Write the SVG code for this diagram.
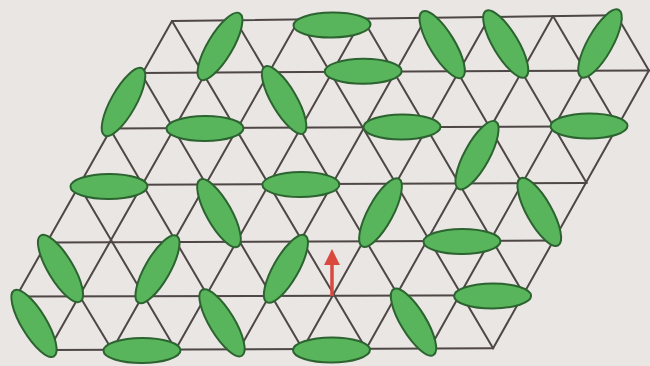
<svg xmlns="http://www.w3.org/2000/svg" width="650" height="366" viewBox="0 0 650 366">
<defs>
<style>
.bg{fill:#e9e6e3}
.ln{stroke:#4f4646;stroke-width:2;fill:none;stroke-linecap:round}
.d{fill:#58b55c;stroke:#2c6330;stroke-width:2}
.arr{stroke:#d9493c;stroke-width:3.5;fill:none}
</style>
<marker id="ah" viewBox="0 0 10 10" refX="2" refY="5" markerWidth="4.6" markerHeight="4.6" orient="auto" markerUnits="strokeWidth">
<path d="M0,0 L10,5 L0,10 z" fill="#d9493c"/>
</marker>
</defs>
<rect class="bg" x="0" y="0" width="650" height="366"/>
<g id="connectors" class="ln">
<!-- rows -->
<line x1="172" y1="21.1" x2="616.5" y2="15.3"/>
<line x1="140.9" y1="72.9" x2="648.9" y2="70.4"/>
<line x1="109.7" y1="128.4" x2="617.7" y2="126.3"/>
<line x1="78.6" y1="185" x2="586.6" y2="183"/>
<line x1="47.4" y1="242.6" x2="555.4" y2="240.6"/>
<line x1="16.3" y1="296.6" x2="524.3" y2="295.1"/>
<line x1="48.6" y1="350.1" x2="493.1" y2="348.3"/>
<!-- "/" lines -->
<line x1="172" y1="21.1" x2="16.3" y2="296.6"/>
<line x1="235.5" y1="20.2" x2="48.6" y2="350.1"/>
<line x1="299" y1="19.4" x2="112.1" y2="349.9"/>
<line x1="362.5" y1="18.6" x2="175.6" y2="349.6"/>
<line x1="426" y1="17.8" x2="239.1" y2="349.4"/>
<line x1="489.5" y1="16.9" x2="302.6" y2="349.1"/>
<line x1="553" y1="16.1" x2="366.1" y2="348.9"/>
<line x1="616.5" y1="15.3" x2="429.6" y2="348.6"/>
<line x1="648.9" y1="70.4" x2="493.1" y2="348.3"/>
<!-- "\" lines -->
<line x1="616.5" y1="15.3" x2="648.9" y2="70.4"/>
<line x1="553" y1="16.1" x2="617.7" y2="126.3"/>
<line x1="489.5" y1="16.9" x2="586.6" y2="183"/>
<line x1="426" y1="17.8" x2="555.4" y2="240.6"/>
<line x1="362.5" y1="18.6" x2="524.3" y2="295.1"/>
<line x1="299" y1="19.4" x2="493.1" y2="348.3"/>
<line x1="235.5" y1="20.2" x2="429.6" y2="348.6"/>
<line x1="172" y1="21.1" x2="366.1" y2="348.9"/>
<line x1="140.9" y1="72.9" x2="302.6" y2="349.1"/>
<line x1="109.7" y1="128.4" x2="239.1" y2="349.4"/>
<line x1="78.6" y1="185" x2="175.6" y2="349.6"/>
<line x1="47.4" y1="242.6" x2="112.1" y2="349.9"/>
<line x1="16.3" y1="296.6" x2="48.6" y2="350.1"/>
</g>
<g id="dimers">
<g id="d1"><ellipse class="d" cx="220" cy="46.4" rx="38.5" ry="12.5" transform="rotate(-59.3 220 46.4)"/></g>
<g id="d2"><ellipse class="d" cx="332" cy="25" rx="38.5" ry="12.5" transform="rotate(-0.7 332 25)"/></g>
<g id="d3"><ellipse class="d" cx="442.2" cy="44.6" rx="38.5" ry="12.5" transform="rotate(58.8 442.2 44.6)"/></g>
<g id="d4"><ellipse class="d" cx="505.7" cy="44" rx="38.5" ry="12.5" transform="rotate(59.1 505.7 44)"/></g>
<g id="d5"><ellipse class="d" cx="600" cy="43.5" rx="38.5" ry="12.5" transform="rotate(-60.7 600 43.5)"/></g>
<g id="d6"><ellipse class="d" cx="363.2" cy="71.3" rx="38.5" ry="12.5" transform="rotate(-0.3 363.2 71.3)"/></g>
<g id="d7"><ellipse class="d" cx="123.5" cy="102" rx="38.5" ry="12.5" transform="rotate(-60.7 123.5 102)"/></g>
<g id="d8"><ellipse class="d" cx="284.1" cy="100" rx="38.5" ry="12.5" transform="rotate(59.7 284.1 100)"/></g>
<g id="d9"><ellipse class="d" cx="205" cy="128.5" rx="38.5" ry="12.5" transform="rotate(-0.3 205 128.5)"/></g>
<g id="d10"><ellipse class="d" cx="402" cy="127" rx="38.5" ry="12.5" transform="rotate(-0.3 402 127)"/></g>
<g id="d11"><ellipse class="d" cx="589" cy="126" rx="38.5" ry="12.5" transform="rotate(-0.3 589 126)"/></g>
<g id="d12"><ellipse class="d" cx="477" cy="155.2" rx="38.5" ry="12.5" transform="rotate(-61.2 477 155.2)"/></g>
<g id="d13"><ellipse class="d" cx="109" cy="186.5" rx="38.5" ry="12.5" transform="rotate(-0.3 109 186.5)"/></g>
<g id="d14"><ellipse class="d" cx="219" cy="213.2" rx="38.5" ry="12.5" transform="rotate(60.6 219 213.2)"/></g>
<g id="d15"><ellipse class="d" cx="300.9" cy="184.6" rx="38.5" ry="12.5" transform="rotate(-0.3 300.9 184.6)"/></g>
<g id="d16"><ellipse class="d" cx="380.5" cy="212.6" rx="38.5" ry="12.5" transform="rotate(-61.6 380.5 212.6)"/></g>
<g id="d17"><ellipse class="d" cx="539.3" cy="211.9" rx="38.5" ry="12.5" transform="rotate(60.6 539.3 211.9)"/></g>
<g id="d19"><ellipse class="d" cx="462" cy="241.5" rx="38.5" ry="12.5" transform="rotate(-0.3 462 241.5)"/></g>
<g id="d20"><ellipse class="d" cx="60.5" cy="268.5" rx="38.5" ry="12.5" transform="rotate(59 60.5 268.5)"/></g>
<g id="d21"><ellipse class="d" cx="157.5" cy="269.2" rx="38.5" ry="12.5" transform="rotate(-60.2 157.5 269.2)"/></g>
<g id="d22"><ellipse class="d" cx="285.9" cy="268.8" rx="38.5" ry="12.5" transform="rotate(-60.2 285.9 268.8)"/></g>
<g id="d23"><ellipse class="d" cx="492.6" cy="296" rx="38.5" ry="12.5" transform="rotate(-0.3 492.6 296)"/></g>
<g id="d24"><ellipse class="d" cx="34" cy="323.4" rx="38.5" ry="12.5" transform="rotate(58.9 34 323.4)"/></g>
<g id="d25"><ellipse class="d" cx="222" cy="322.8" rx="38.5" ry="12.5" transform="rotate(58.8 222 322.8)"/></g>
<g id="d26"><ellipse class="d" cx="413.5" cy="322.1" rx="38.5" ry="12.5" transform="rotate(58.7 413.5 322.1)"/></g>
<g id="d27"><ellipse class="d" cx="142" cy="350.5" rx="38.5" ry="12.5" transform="rotate(-0.3 142 350.5)"/></g>
<g id="d28"><ellipse class="d" cx="331.5" cy="350" rx="38.5" ry="12.5" transform="rotate(-0.3 331.5 350)"/></g>
</g>
<g id="arrow">
<line class="arr" x1="332" y1="296" x2="332" y2="262" marker-end="url(#ah)"/>
</g>
</svg>
